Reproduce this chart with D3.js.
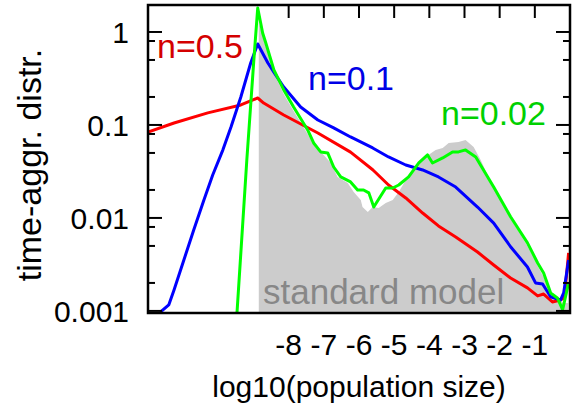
<!DOCTYPE html>
<html>
<head>
<meta charset="utf-8">
<script src="https://cdn.jsdelivr.net/npm/d3@7"></script>
<style>
  html, body { margin: 0; padding: 0; background: #fff; }
  text { font-family: "Liberation Sans", Arial, sans-serif; }
</style>
</head>
<body>
<svg id="chart" width="582" height="411"></svg>
<script>
// x: log10(population size), y: time-aggregated distribution
const xTicks = [-8, -7, -6, -5, -4, -3, -2, -1];
const yMajor = [1, 0.1, 0.01, 0.001];
const yMajorLabels = ["1", "0.1", "0.01", "0.001"];
const yMinorMult = [2, 5, 8];

const standardX = [-8.85, -8.85, -8.65, -8.42, -8.14, -7.86, -7.46, -7.23, -7.03, -6.80, -6.61, -6.32, -6.15, -5.95, -5.90, -5.75, -5.61, -5.44, -5.24, -5.04, -4.87, -4.67, -4.47, -4.30, -4.11, -3.82, -3.62, -3.45, -3.17, -2.97, -2.74, -2.54, -2.17, -1.69, -1.21, -0.92, -0.75, -0.55, -0.36, -0.18, -0.05];
const standardY = [0.00095, 1.28, 0.69, 0.362, 0.215, 0.141, 0.080, 0.0566, 0.0488, 0.039, 0.0276, 0.0238, 0.019, 0.0156, 0.0131, 0.0116, 0.0131, 0.0128, 0.0145, 0.0156, 0.019, 0.0256, 0.0305, 0.039, 0.0453, 0.0539, 0.0566, 0.064, 0.0656, 0.069, 0.058, 0.042, 0.021, 0.0098, 0.005, 0.00305, 0.00232, 0.00149, 0.00131, 0.00122, 0.00122];

const redX = [-12.0, -11.26, -10.30, -9.36, -8.88, -8.71, -8.14, -7.17, -6.24, -5.61, -5.16, -4.67, -4.19, -3.74, -3.25, -2.63, -2.17, -1.69, -1.21, -0.92, -0.75, -0.50, -0.27, -0.16, -0.04];
const redY = [0.084, 0.105, 0.135, 0.164, 0.195, 0.172, 0.128, 0.082, 0.051, 0.033, 0.0226, 0.0164, 0.0113, 0.0082, 0.00625, 0.0043, 0.00312, 0.00226, 0.00177, 0.00145, 0.00152, 0.00125, 0.00131, 0.00138, 0.0042];

const blueX = [-11.65, -11.41, -11.26, -10.98, -10.70, -10.41, -10.16, -9.87, -9.64, -9.36, -9.08, -8.88, -8.59, -8.37, -8.14, -7.66, -7.17, -6.72, -6.24, -5.61, -5.16, -4.67, -4.19, -3.74, -3.25, -2.63, -2.17, -1.69, -1.21, -0.98, -0.78, -0.55, -0.27, -0.18, -0.04];
const blueY = [0.00097, 0.00116, 0.00168, 0.00353, 0.00743, 0.0156, 0.029, 0.054, 0.095, 0.20, 0.464, 0.743, 0.464, 0.345, 0.256, 0.156, 0.113, 0.093, 0.0743, 0.0566, 0.0453, 0.0371, 0.0328, 0.0276, 0.0215, 0.0131, 0.0088, 0.0049, 0.00297, 0.0020, 0.00195, 0.00142, 0.00131, 0.00156, 0.00353];

const greenX = [-9.47, -9.19, -8.99, -8.88, -8.74, -8.65, -8.42, -8.14, -7.86, -7.46, -7.29, -7.09, -6.89, -6.72, -6.52, -6.24, -6.04, -5.87, -5.72, -5.58, -5.24, -5.04, -4.87, -4.59, -4.30, -4.05, -3.91, -3.62, -3.34, -3.17, -2.97, -2.68, -2.46, -2.17, -1.69, -1.21, -0.92, -0.75, -0.55, -0.36, -0.21, -0.04];
const greenY = [0.00095, 0.042, 0.50, 1.81, 0.975, 0.762, 0.39, 0.238, 0.156, 0.0883, 0.064, 0.0513, 0.050, 0.0353, 0.0276, 0.0244, 0.020, 0.020, 0.0186, 0.0131, 0.021, 0.021, 0.0226, 0.0276, 0.039, 0.0476, 0.039, 0.0442, 0.0513, 0.0513, 0.0539, 0.0453, 0.0328, 0.0215, 0.0103, 0.0054, 0.00328, 0.00256, 0.00156, 0.00138, 0.00103, 0.0020];

const W = 582, H = 411;
const m = { left: 148, top: 5, right: 12, bottom: 98 };
const x = d3.scaleLinear().domain([-12, 0]).range([m.left, W - m.right]);
const y = d3.scaleLog().domain([0.00095, 1.95]).range([H - m.bottom, m.top]);
const x0 = m.left, x1 = W - m.right, y0 = m.top, y1 = H - m.bottom;

const svg = d3.select("#chart");
svg.append("defs").append("clipPath").attr("id", "clip")
  .append("rect").attr("x", x0).attr("y", y0).attr("width", x1 - x0).attr("height", y1 - y0);

const plot = svg.append("g").attr("clip-path", "url(#clip)");

const zip = (xs, ys) => xs.map((v, i) => [v, ys[i]]);

const area = d3.area().x(d => x(d[0])).y0(y1).y1(d => y(d[1]));
plot.append("path").datum(zip(standardX, standardY))
  .attr("d", area).attr("fill", "#cccccc");

plot.append("text").attr("x", 263).attr("y", 304)
  .attr("font-size", 35).attr("fill", "#878787").text("standard model");

const line = d3.line().x(d => x(d[0])).y(d => y(d[1]));
[[redX, redY, "#ff0000"], [blueX, blueY, "#0000ff"], [greenX, greenY, "#00ff00"]].forEach(([xs, ys, c]) => {
  plot.append("path").datum(zip(xs, ys)).attr("d", line)
    .attr("fill", "none").attr("stroke", c).attr("stroke-width", 3)
    .attr("stroke-linejoin", "round");
});

// frame
svg.append("rect").attr("x", x0).attr("y", y0).attr("width", x1 - x0).attr("height", y1 - y0)
  .attr("fill", "none").attr("stroke", "#000").attr("stroke-width", 2.5);

// top x ticks (inward)
svg.append("g").selectAll("line").data(xTicks).join("line")
  .attr("x1", d => x(d)).attr("x2", d => x(d)).attr("y1", y0).attr("y2", y0 + 13)
  .attr("stroke", "#000").attr("stroke-width", 2);

// x tick labels
svg.append("g").selectAll("text").data(xTicks).join("text")
  .attr("x", d => x(d)).attr("y", 355).attr("text-anchor", "middle")
  .attr("font-size", 30).attr("fill", "#000").text(d => d);

// y ticks
const minor = [];
yMajor.forEach(v => yMinorMult.forEach(k => { const t = v * k; if (t < 1.95 && t > 0.00095) minor.push(t); }));
const yt = svg.append("g");
[[x0, 1], [x1, -1]].forEach(([xe, dir]) => {
  yt.append("g").selectAll("line").data(yMajor).join("line")
    .attr("x1", xe).attr("x2", xe + dir * 14).attr("y1", d => y(d)).attr("y2", d => y(d))
    .attr("stroke", "#000").attr("stroke-width", 2);
  yt.append("g").selectAll("line").data(minor).join("line")
    .attr("x1", xe).attr("x2", xe + dir * 7).attr("y1", d => y(d)).attr("y2", d => y(d))
    .attr("stroke", "#000").attr("stroke-width", 2);
});
svg.append("g").selectAll("text").data(yMajor).join("text")
  .attr("x", 129).attr("y", d => y(d) + 11).attr("text-anchor", "end")
  .attr("font-size", 30).attr("fill", "#000").text((d, i) => yMajorLabels[i]);

// axis titles
svg.append("text").attr("x", (x0 + x1) / 2).attr("y", 397).attr("text-anchor", "middle")
  .attr("font-size", 30).attr("fill", "#000").text("log10(population size)");
svg.append("text").attr("transform", `translate(41, 165) rotate(-90)`)
  .attr("text-anchor", "middle").attr("font-size", 34).attr("fill", "#000").text("time-aggr. distr.");

// series labels
svg.append("text").attr("x", 157).attr("y", 58).attr("font-size", 34).attr("fill", "#d40000").text("n=0.5");
svg.append("text").attr("x", 308).attr("y", 90).attr("font-size", 34).attr("fill", "#0000e6").text("n=0.1");
svg.append("text").attr("x", 441).attr("y", 125).attr("font-size", 34).attr("fill", "#00d000").text("n=0.02");
</script>
</body>
</html>
